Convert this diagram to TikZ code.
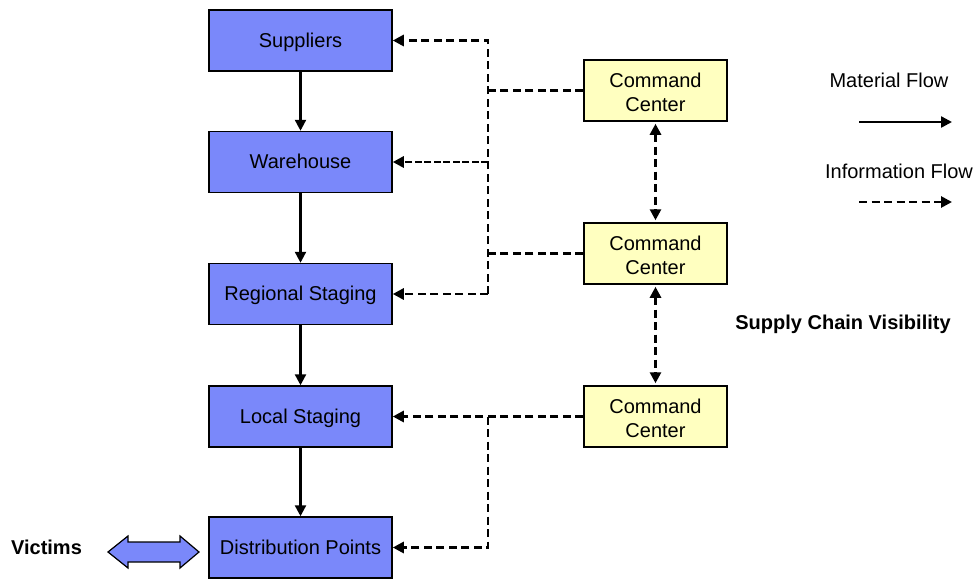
\documentclass[tikz,border=0pt]{standalone}
\usepackage{fontspec}
\setmainfont{Liberation Sans}
\usetikzlibrary{arrows.meta}
\definecolor{stageblue}{RGB}{122,136,250}
\definecolor{ccyellow}{RGB}{255,255,192}
\tikzset{
  stage/.style={draw=black, line width=1.5pt, fill=stageblue, minimum width=183pt,
    minimum height=61pt, inner sep=0pt, text height=14.5pt, text depth=1pt,
    font=\fontsize{20}{24}\selectfont},
  command/.style={draw=black, line width=1.5pt, fill=ccyellow, minimum width=143pt,
    minimum height=61pt, inner sep=0pt, align=center, text height=42.5pt, text depth=0pt,
    font=\fontsize{20}{24}\selectfont},
  label/.style={inner sep=0pt, font=\fontsize{20}{24}\selectfont},
  tip/.tip={Triangle[length=11pt,width=11pt]},
  mat/.style={line width=2.4pt, -tip},
  info/.style={line width=2.7pt, dash pattern=on 8pt off 4.5pt},
  densedash/.style={dash pattern=on 7pt off 2.5pt},
}
\begin{document}
\begin{tikzpicture}[x=1pt,y=-1pt]
  \useasboundingbox (0,0) rectangle (977,579);

  % supply chain stages
  \node[stage] (sup)  at (300.5,40.5)  {Suppliers};
  \node[stage] (wh)   at (300.5,162)   {Warehouse};
  \node[stage] (reg)  at (300.5,294)   {Regional Staging};
  \node[stage] (loc)  at (300.5,416.5) {Local Staging};
  \node[stage] (dist) at (300.5,547.5) {Distribution Points};

  % command centers
  \node[command] (cc1) at (655.5,90.5)  {Command\\Center};
  \node[command] (cc2) at (655.5,253.5) {Command\\Center};
  \node[command] (cc3) at (655.5,416.5) {Command\\Center};

  % material flow between stages
  \draw[mat] (sup) -- (wh);
  \draw[mat] (wh) -- (reg);
  \draw[mat] (reg) -- (loc);
  \draw[mat] (loc) -- (dist);

  % information bus from the upper command centers
  \coordinate (busx) at (488,0);
  \draw[info,-tip] (busx |- reg.east) -- (busx |- sup.east) -- (sup.east);
  \draw[info,densedash,-tip] (busx |- wh.east) -- (wh.east);
  \draw[info,-tip] (busx |- reg.east) -- (reg.east);
  \draw[info] (cc1.west) -- (busx |- cc1.west);
  \draw[info] (cc2.west) -- (busx |- cc2.west);

  % information from the lower command center
  \draw[info,-tip] (cc3.west) -- (loc.east);
  \draw[info,-tip] (busx |- loc.east) -- (busx |- dist.east) -- (dist.east);

  % links between command centers
  \draw[info,tip-tip,shorten <=2pt,shorten >=2pt] (cc1.south) -- (cc2.north);
  \draw[info,tip-tip,shorten <=2pt,shorten >=2pt] (cc2.south) -- (cc3.north);

  % legend
  \node[label] (matlbl) at (889,80) {Material Flow};
  \coordinate (mat0) at (859,122);
  \coordinate (mat1) at (952,122);
  \draw[mat] (mat0) -- (mat1);
  \node[label] (inflbl) at (899,171) {Information Flow};
  \coordinate (inf0) at (859,202);
  \coordinate (inf1) at (952,202);
  \draw[info,-tip] (inf0) -- (inf1);

  \node[label, font=\fontsize{20}{24}\selectfont\bfseries] (scv) at (843,324) {Supply Chain Visibility};

  % victims and the two-way exchange with distribution points
  \node[label, font=\fontsize{20}{24}\selectfont\bfseries] (vict) at (46.5,547) {Victims};
  \draw[line width=1.2pt, fill=stageblue, line join=miter]
    (108,552) -- (128,536) -- (128,542) -- (180,542) -- (180,536) -- (199,552)
    -- (180,568) -- (180,562) -- (128,562) -- (128,568) -- cycle;
\end{tikzpicture}
\end{document}
